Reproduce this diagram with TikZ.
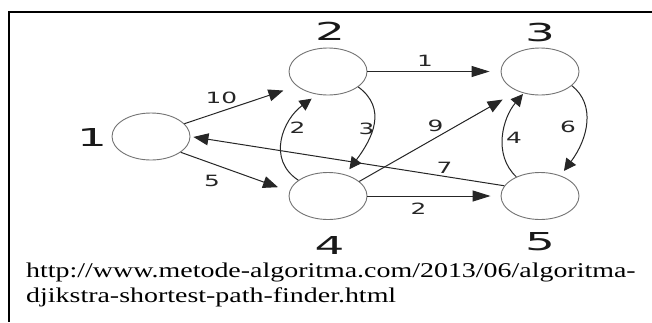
\documentclass[tikz,border=0pt]{standalone}
\usepackage{fontspec}
\usepackage{graphicx}
\usetikzlibrary{shapes.geometric,arrows.meta}
\setmainfont{Liberation Serif}
\newfontfamily\graphfont{DejaVu Sans}
\newcommand\bnum[1]{\scalebox{1.9}[1]{\graphfont\fontsize{24.7}{26}\selectfont #1}}
\newcommand\wnum[1]{\scalebox{1.6}[1]{\graphfont\fontsize{15.5}{17}\selectfont #1}}
\tikzset{
  vert/.style={draw=black!55, line width=0.9pt, ellipse, minimum width=78pt, minimum height=47pt, inner sep=0pt},
  numlab/.style={inner sep=0pt, text=black!90},
  wlab/.style={inner sep=0pt, text=black!85},
  edge/.style={draw=black!85, line width=1pt, -{Triangle[length=15pt,width=12pt]}},
  hedge/.style={draw=black!85, line width=1pt, -{Triangle[length=18pt,width=11pt]}},
  cedge/.style={draw=black!85, line width=1pt, -{Triangle[length=12pt,width=12pt]}},
  frame/.style={line width=1.8pt, line join=miter}
}
\begin{document}
\begin{tikzpicture}[x=1pt,y=-1pt]
\useasboundingbox (0,0) rectangle (652,322);
\fill[white] (0,0) rectangle (652,322);
% frame
\coordinate (tl) at (9.3,12);
\coordinate (tr) at (652,12);
\coordinate (bl) at (9.3,322);
\draw[frame] (tr) -- (tl) -- (bl);
% vertices
\node[vert] (n1) at (151,136.5) {};
\node[vert] (n2) at (328,71.5) {};
\node[vert] (n3) at (540,71.5) {};
\node[vert] (n4) at (328,196) {};
\node[vert] (n5) at (540,196) {};
% vertex numbers
\node[numlab] (t1) at (92,137.5) {\bnum{1}};
\node[numlab] (t2) at (330,31) {\bnum{2}};
\node[numlab] (t3) at (540,32.5) {\bnum{3}};
\node[numlab] (t4) at (329.5,245.5) {\bnum{4}};
\node[numlab] (t5) at (540,241.5) {\bnum{5}};
% straight edges
\draw[edge, shorten >=14pt] (n1.21.7) -- (n2.-155.5);
\draw[edge, shorten >=12pt] (n1.-28.4) -- (n4.173);
\draw[hedge, shorten >=11pt] (n2.east) -- (n3.west);
\draw[hedge, shorten >=10pt] (n4.east) -- (n5.west);
\draw[edge, shorten >=17pt] (n4.25.7) -- (n3.-139);
\draw[edge, shorten >=3pt] (n5.164.3) -- (n1.east);
% curved edges
\draw[cedge, shorten >=7pt] (n4.152) .. controls +(-32,-21) and +(-34.1,24.85) .. (n2.-115.7);
\draw[cedge, shorten >=6.6pt] (n2.-27.2) .. controls +(29.3,21.7) and +(27.2,-36.3) .. (n4.51.5);
\draw[cedge, shorten >=1pt] (n5.141.9) .. controls +(-23.7,-22.3) and +(-20.9,24.6) .. (n3.-127);
\draw[cedge, shorten >=5.8pt] (n3.-24.5) .. controls +(24.3,19) and +(27.5,-36.6) .. (n5.45.6);
% weights
\node[wlab] (w12) at (221.5,98) {\wnum{10}};
\node[wlab] (w14) at (212,181) {\wnum{5}};
\node[wlab] (w42) at (297.5,127.5) {\wnum{2}};
\node[wlab] (w24) at (366.5,128.5) {\wnum{3}};
\node[wlab] (w23) at (425,61) {\wnum{1}};
\node[wlab] (w43) at (435.5,126) {\wnum{9}};
\node[wlab] (w51) at (444.5,167.5) {\wnum{7}};
\node[wlab] (w45) at (418.5,208.5) {\wnum{2}};
\node[wlab] (w53) at (514,138) {\wnum{4}};
\node[wlab] (w35) at (568,126.5) {\wnum{6}};
% source text
\node[inner sep=0pt, anchor=base west] (src1) at (26,277.7) {\scalebox{1.33}[1]{\fontsize{21}{24}\selectfont http://www.metode-algoritma.com/2013/06/algoritma-}};
\node[inner sep=0pt, anchor=base west] (src2) at (26,302.3) {\scalebox{1.33}[1]{\fontsize{21}{24}\selectfont djikstra-shortest-path-finder.html}};
\end{tikzpicture}
\end{document}
